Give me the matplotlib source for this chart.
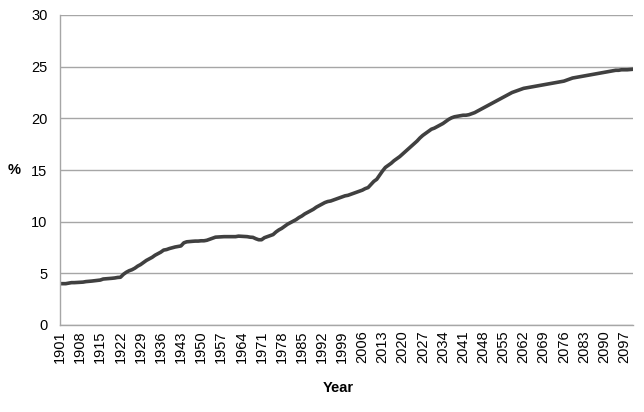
import matplotlib
matplotlib.use("Agg")
import matplotlib.pyplot as plt
import numpy as np

years = list(range(1901, 2101))
values = [
    4.0, 4.0, 4.0, 4.05, 4.1, 4.1, 4.12, 4.15, 4.15, 4.2,
    4.22, 4.25, 4.28, 4.3, 4.35, 4.45, 4.47, 4.5, 4.52, 4.55,
    4.6, 4.62, 4.9, 5.1, 5.25, 5.35, 5.5, 5.7, 5.85, 6.05,
    6.25, 6.4, 6.55, 6.75, 6.9, 7.05, 7.25, 7.3, 7.4, 7.48,
    7.55, 7.6, 7.65, 7.95, 8.05, 8.08, 8.1, 8.12, 8.12, 8.15,
    8.15, 8.2, 8.3, 8.4, 8.5, 8.52, 8.55, 8.55, 8.55, 8.55,
    8.55, 8.55, 8.6, 8.58, 8.55, 8.55, 8.5, 8.48, 8.35, 8.25,
    8.25, 8.45, 8.55, 8.65, 8.75, 9.0, 9.2, 9.35, 9.55, 9.75,
    9.9, 10.05, 10.2, 10.4, 10.55, 10.75, 10.9, 11.05, 11.2, 11.4,
    11.55, 11.7, 11.85, 11.95, 12.0, 12.1, 12.2, 12.3, 12.4, 12.5,
    12.55, 12.65, 12.75, 12.85, 12.95, 13.05, 13.2, 13.3, 13.6, 13.9,
    14.1, 14.5, 14.9, 15.25, 15.45, 15.65, 15.9, 16.1, 16.3, 16.55,
    16.8, 17.05, 17.3, 17.55, 17.8, 18.1, 18.35, 18.55, 18.75, 18.95,
    19.05, 19.2, 19.35, 19.5, 19.7, 19.9, 20.05, 20.15, 20.2, 20.25,
    20.3, 20.3, 20.35, 20.45, 20.55, 20.7, 20.85, 21.0, 21.15, 21.3,
    21.45, 21.6, 21.75, 21.9, 22.05, 22.2, 22.35, 22.5, 22.6, 22.7,
    22.8, 22.9, 22.95, 23.0, 23.05, 23.1, 23.15, 23.2, 23.25, 23.3,
    23.35, 23.4, 23.45, 23.5, 23.55, 23.6, 23.7, 23.8, 23.9, 23.95,
    24.0, 24.05, 24.1, 24.15, 24.2, 24.25, 24.3, 24.35, 24.4, 24.45,
    24.5, 24.55, 24.6, 24.65, 24.65, 24.7, 24.7, 24.7, 24.72, 24.75,
]
xtick_labels = [str(y) for y in range(1901, 2101, 7)]
ytick_values = [0, 5, 10, 15, 20, 25, 30]

plt.rcParams['font.family'] = ['Liberation Sans', 'DejaVu Sans']

fig = plt.figure(figsize=(6.44, 4.12), dpi=100)
ax = fig.add_axes([60/644, 1-325/412, (633-60)/644, (325-15)/412])

ax.plot(years, values, color='#404040', lw=2.6, solid_capstyle='round')

ax.set_xlim(1901, 2100)
ax.set_ylim(0, 30)
ax.set_yticks(ytick_values)
ax.set_xticks([int(s) for s in xtick_labels])
ax.set_xticklabels(xtick_labels, rotation=90, fontsize=10.5, color='black')
ax.tick_params(axis='y', labelsize=10.5, length=0, pad=9)
ax.tick_params(axis='x', length=0, pad=4)

ax.yaxis.grid(True, color='#a6a6a6', lw=1.0)
ax.set_axisbelow(True)
for s in ['top', 'right']:
    ax.spines[s].set_visible(False)
for s in ['left', 'bottom']:
    ax.spines[s].set_color('#a6a6a6')
    ax.spines[s].set_linewidth(1.0)

fig.text(8/644, 1-170/412, '%', fontsize=10.5, fontweight='bold', ha='left', va='center')
fig.text(338/644, 1-388/412, 'Year', fontsize=10.5, fontweight='bold', ha='center', va='center')

fig.savefig('out.png', dpi=100)
